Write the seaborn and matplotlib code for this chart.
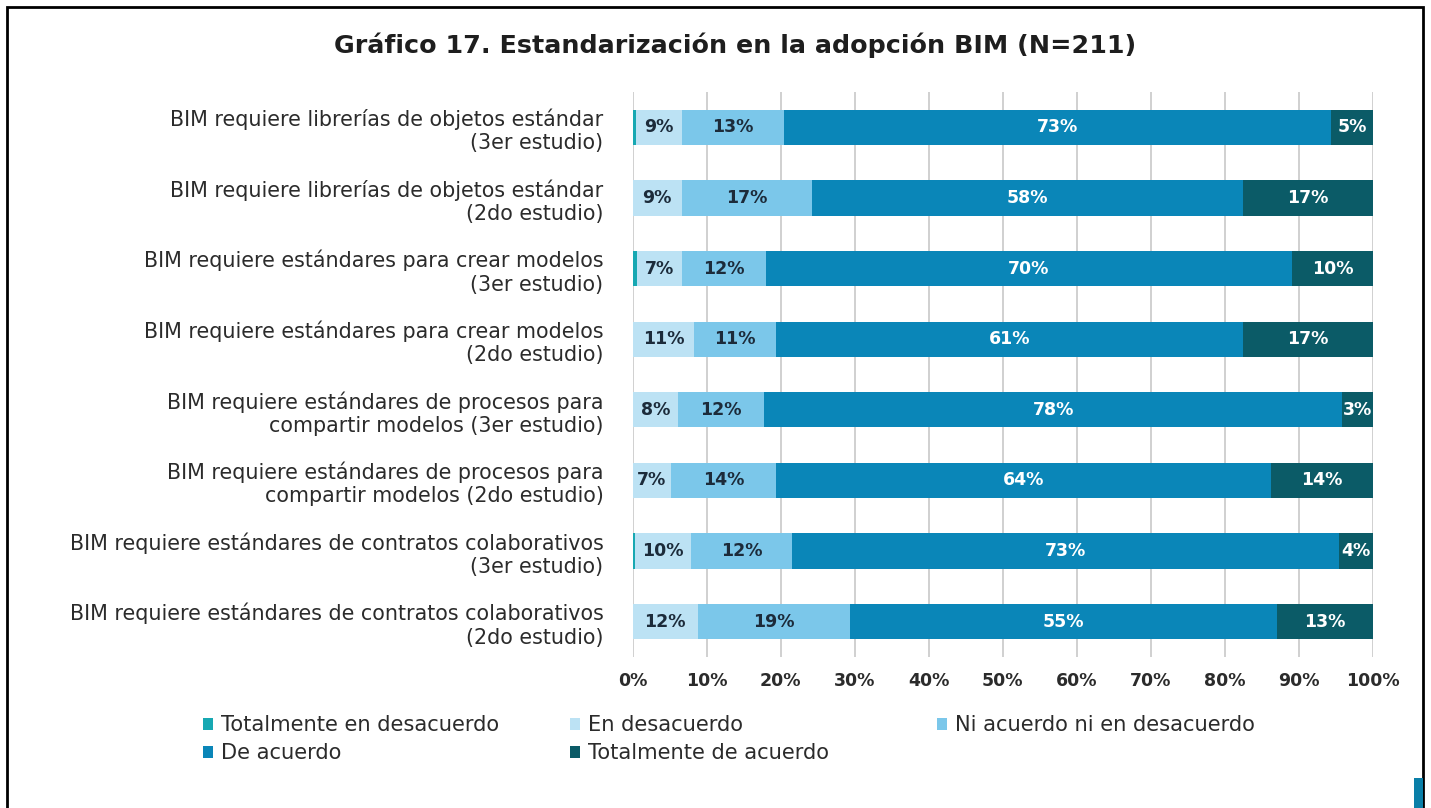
import matplotlib
matplotlib.use("Agg")
import matplotlib.pyplot as plt
import seaborn as sns
import pandas as pd
from matplotlib.patches import Rectangle, Patch

# ---------------- data ----------------
categories = [
    "BIM requiere librerías de objetos estándar\n(3er estudio)",
    "BIM requiere librerías de objetos estándar\n(2do estudio)",
    "BIM requiere estándares para crear modelos\n(3er estudio)",
    "BIM requiere estándares para crear modelos\n(2do estudio)",
    "BIM requiere estándares de procesos para\ncompartir modelos (3er estudio)",
    "BIM requiere estándares de procesos para\ncompartir modelos (2do estudio)",
    "BIM requiere estándares de contratos colaborativos\n(3er estudio)",
    "BIM requiere estándares de contratos colaborativos\n(2do estudio)",
]
series_names = ["Totalmente en desacuerdo", "En desacuerdo",
                "Ni acuerdo ni en desacuerdo", "De acuerdo",
                "Totalmente de acuerdo"]

# bar widths as drawn in the reference (%)
totalmente_desacuerdo = [0.5, 0.0, 0.6, 0.0, 0.0, 0.0, 0.3, 0.0]
en_desacuerdo         = [6.1, 6.6, 6.1, 8.3, 6.1, 5.2, 7.6, 8.8]
ni_acuerdo            = [13.8, 17.6, 11.3, 11.0, 11.7, 14.1, 13.6, 20.5]
de_acuerdo            = [74.0, 58.3, 71.1, 63.2, 78.1, 67.0, 74.0, 57.8]
totalmente_acuerdo    = [5.6, 17.5, 10.9, 17.5, 4.1, 13.7, 4.5, 12.9]

# printed labels
labels_td = ["", "", "", "", "", "", "", ""]
labels_ed = ["9%", "9%", "7%", "11%", "8%", "7%", "10%", "12%"]
labels_ni = ["13%", "17%", "12%", "11%", "12%", "14%", "12%", "19%"]
labels_da = ["73%", "58%", "70%", "61%", "78%", "64%", "73%", "55%"]
labels_ta = ["5%", "17%", "10%", "17%", "3%", "14%", "4%", "13%"]

x_ticks = [0, 10, 20, 30, 40, 50, 60, 70, 80, 90, 100]
x_tick_labels = ["0%", "10%", "20%", "30%", "40%", "50%", "60%", "70%", "80%", "90%", "100%"]

title = "Gráfico 17. Estandarización en la adopción BIM (N=211)"

colors = ["#17a8b2", "#bce2f4", "#7bc7ea", "#0a86b8", "#0b5b67"]
label_colors = ["#1c2b3a", "#1c2b3a", "#1c2b3a", "#ffffff", "#ffffff"]

# ---------------- figure ----------------
sns.set_theme(style="white")
plt.rcParams["font.family"] = ["DejaVu Sans"]

fig = plt.figure(figsize=(14.31, 8.08), dpi=100)
ax = fig.add_axes([632.7 / 1431, 1 - 657 / 808, 740 / 1431, 565 / 808])

series = [totalmente_desacuerdo, en_desacuerdo, ni_acuerdo, de_acuerdo, totalmente_acuerdo]
labels = [labels_td, labels_ed, labels_ni, labels_da, labels_ta]

df = pd.DataFrame({"categoria": categories})
cum = [0.0] * len(categories)
starts, ends = [], []
for s in series:
    st = list(cum)
    cum = [c + v for c, v in zip(cum, s)]
    starts.append(st)
    ends.append(list(cum))

for i in range(len(series) - 1, -1, -1):
    col = f"end_{i}"
    df[col] = ends[i]
    sns.barplot(data=df, x=col, y="categoria", color=colors[i], orient="h",
                width=0.5, saturation=1, ax=ax, linewidth=0, zorder=2)

for i in range(len(series)):
    for j in range(len(categories)):
        if labels[i][j]:
            xc = (starts[i][j] + ends[i][j]) / 2
            ax.text(xc, j, labels[i][j], ha="center", va="center",
                    fontsize=12.5, fontweight="bold", color=label_colors[i], zorder=5)

ax.set_xlim(0, 100)
ax.set_ylim(len(categories) - 0.5, -0.5)
ax.set_xticks(x_ticks)
ax.set_xticklabels(x_tick_labels, fontsize=12.5, fontweight="bold", color="#2b2b2b")
ax.tick_params(axis="x", length=0, pad=11)
ax.tick_params(axis="y", length=0, pad=21, labelsize=14.9, labelcolor="#2b2b2b")
ax.set_xlabel("")
ax.set_ylabel("")
ax.xaxis.grid(True, color="#c8c8c8", linewidth=1.2)
ax.yaxis.grid(False)
ax.set_axisbelow(True)
for sp in ax.spines.values():
    sp.set_visible(False)

fig.text(735 / 1431, 1 - 45 / 808, title, ha="center", va="center",
         fontsize=18.3, fontweight="bold", color="#1e1e1e")

# legend (three columns)
cols_layout = [[0, 3], [1, 4], [2]]
col_x = [203 / 1431, 570 / 1431, 937 / 1431]
for cx, idxs in zip(col_x, cols_layout):
    handles = [Patch(facecolor=colors[k], edgecolor="none") for k in idxs]
    fig.legend(handles, [series_names[k] for k in idxs], loc="upper left",
               bbox_to_anchor=(cx, 1 - 715 / 808), frameon=False,
               fontsize=15.1, handlelength=0.5, handleheight=0.5,
               handletextpad=0.35, labelspacing=0.38, borderpad=0,
               borderaxespad=0, labelcolor="#2b2b2b")

# page frame
fig.add_artist(Rectangle((7 / 1431, -0.05), (1423 - 7) / 1431, 1 - 7 / 808 + 0.05,
                         transform=fig.transFigure, fill=False, edgecolor="black",
                         linewidth=2))
fig.add_artist(Rectangle((1414 / 1431, 0), 9 / 1431, 30 / 808,
                         transform=fig.transFigure, facecolor="#0a7fa8",
                         edgecolor="none"))

fig.savefig("out.png", dpi=100, facecolor="white")
